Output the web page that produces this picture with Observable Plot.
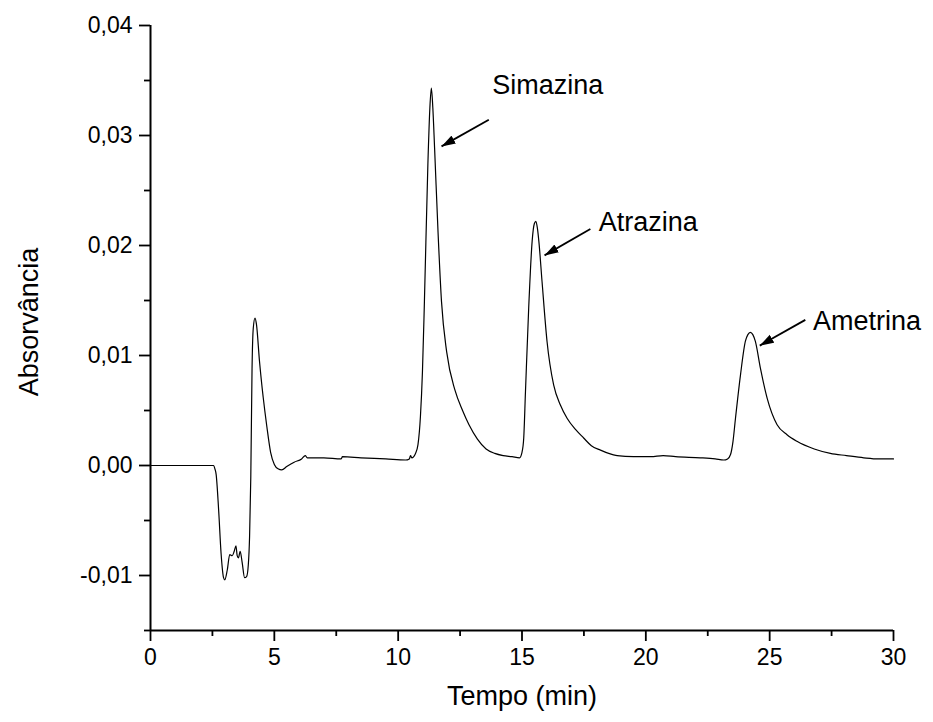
<!DOCTYPE html>
<html>
<head>
<meta charset="utf-8">
<script src="https://cdn.jsdelivr.net/npm/d3@7"></script>
<script src="https://cdn.jsdelivr.net/npm/@observablehq/plot@0.6"></script>
<style>
  html, body { margin: 0; padding: 0; background: #fff; }
  svg { display: block; }
</style>
</head>
<body>
<div id="chart"></div>
<script>
// Chromatogram: time (min) vs absorbance
const time = [
  0, 1, 2, 2.55, 2.6, 2.65, 2.75, 2.85, 2.95, 3.0, 3.1, 3.2, 3.3, 3.38, 3.45, 3.5, 3.55, 3.62, 3.7, 3.8, 3.88, 3.95,
  4.0, 4.05, 4.1, 4.15, 4.22, 4.28, 4.4, 4.55, 4.7, 4.85, 5.0, 5.15, 5.3, 5.5, 5.8, 6.1, 6.25, 6.33, 7.0, 7.7, 7.75,
  8.5, 9.5, 10.3, 10.45, 10.5, 10.55, 10.7, 10.8, 10.9, 10.98, 11.06, 11.2, 11.28, 11.34, 11.4, 11.47, 11.61, 11.75,
  11.96, 12.3, 12.6, 12.86, 13.2, 13.55, 13.9, 14.24, 14.6, 14.9, 15.0, 15.07, 15.14, 15.27, 15.41, 15.5, 15.56,
  15.62, 15.68, 15.81, 16.01, 16.28, 16.55, 16.82, 17.15, 17.49, 17.8, 18.17, 18.5, 18.84, 19.5, 20.2, 20.7, 21.2,
  22.2, 22.8, 23.15, 23.3, 23.42, 23.52, 23.62, 23.82, 24.02, 24.12, 24.22, 24.32, 24.42, 24.63, 24.9, 25.3, 25.7,
  26.1, 26.8, 27.45, 28.1, 28.8, 29.4, 30
];
const absorbance = [
  0, 0, 0, 0, -0.0003, -0.0008, -0.004, -0.008, -0.0102, -0.0104, -0.0095, -0.0081, -0.0082, -0.0078, -0.0073, -0.0082,
  -0.0084, -0.0078, -0.0088, -0.0102, -0.0101, -0.0090,
  -0.0065, -0.001, 0.0088, 0.0125, 0.0134, 0.0128, 0.0095, 0.0062, 0.0035, 0.0012, 0.0001, -0.0003, -0.0004, -0.0001,
  0.0003, 0.0006, 0.0009, 0.0007, 0.0007, 0.0006, 0.0008,
  0.0007, 0.0006, 0.0005, 0.0006, 0.0009, 0.0007, 0.0011, 0.0019, 0.0045, 0.0085, 0.0149, 0.0274, 0.0325, 0.0343,
  0.0325, 0.0289, 0.0212, 0.0149,
  0.0103, 0.0068, 0.0050, 0.0037, 0.0024, 0.0015, 0.0011, 0.0009, 0.0008, 0.0007, 0.0012, 0.0025, 0.0067, 0.0143,
  0.0204, 0.0220, 0.0222,
  0.0216, 0.0204, 0.0167, 0.0113, 0.0073, 0.0055, 0.0043, 0.0033, 0.0025, 0.0018, 0.0014, 0.0011, 0.0009, 0.0008,
  0.0008, 0.0009, 0.0008,
  0.0007, 0.0006, 0.0005, 0.0006, 0.0010, 0.0022, 0.0043, 0.0082, 0.0113, 0.0119, 0.0121, 0.0119, 0.0113, 0.0088,
  0.0061, 0.0037, 0.0028,
  0.0022, 0.0015, 0.0011, 0.0009, 0.0007, 0.0006, 0.0006
];

// Peak annotations
const peakNames = ["Simazina", "Atrazina", "Ametrina"];
const labelX = [13.8, 18.1, 26.75];
const labelY = [0.0346, 0.0221, 0.0131];
const arrowFromX = [13.66, 17.76, 26.44];
const arrowFromY = [0.03144, 0.0215, 0.01324];
const arrowToX = [11.75, 15.91, 24.6];
const arrowToY = [0.02901, 0.0191, 0.0109];

// Axis ticks
const xMajor = [0, 5, 10, 15, 20, 25, 30];
const xMinor = [2.5, 7.5, 12.5, 17.5, 22.5, 27.5];
const yMajor = [-0.01, 0, 0.01, 0.02, 0.03, 0.04];
const yMinor = [-0.015, -0.005, 0.005, 0.015, 0.025, 0.035];

const series = time.map((t, i) => ({t, a: absorbance[i]}));
const notes = peakNames.map((name, i) => ({
  name, lx: labelX[i], ly: labelY[i],
  x1: arrowFromX[i], y1: arrowFromY[i], x2: arrowToX[i], y2: arrowToY[i]
}));

const fmtY = d => d3.format(".2f")(d).replace("\u2212", "-").replace(".", ",");

function filledArrow(color) {
  const m = d3.create("svg:marker")
    .attr("viewBox", "-14 -5 14 10")
    .attr("markerWidth", 14)
    .attr("markerHeight", 10)
    .attr("markerUnits", "userSpaceOnUse")
    .attr("orient", "auto")
    .attr("refX", 0)
    .attr("refY", 0)
    .attr("fill", color)
    .attr("stroke", "none");
  m.append("path").attr("d", "M-14,-4.5L0,0L-14,4.5Z");
  return m.node();
}

const font = "'Liberation Sans', Arial, Helvetica, sans-serif";

const chart = Plot.plot({
  width: 933,
  height: 722,
  marginLeft: 150,
  marginRight: 40,
  marginTop: 25,
  marginBottom: 92,
  style: {fontFamily: font, fontSize: "23px", color: "#000", background: "#fff"},
  x: {domain: [0, 30]},
  y: {domain: [-0.015, 0.04]},
  marks: [
    Plot.axisX(xMajor, {tickSize: 11, tickPadding: 7, tickFormat: d => String(d), strokeWidth: 1.8, fontSize: 23, label: null}),
    Plot.axisX(xMinor, {tickSize: 6, tickFormat: () => "", strokeWidth: 1.8, label: null}),
    Plot.axisY(yMajor, {tickSize: 11, tickPadding: 7, tickFormat: fmtY, strokeWidth: 1.8, fontSize: 23, label: null}),
    Plot.axisY(yMinor, {tickSize: 6, tickFormat: () => "", strokeWidth: 1.8, label: null}),
    Plot.ruleX([0], {stroke: "#000", strokeWidth: 2}),
    Plot.ruleY([-0.015], {stroke: "#000", strokeWidth: 2}),
    Plot.line(series, {x: "t", y: "a", curve: "monotone-x", stroke: "#000", strokeWidth: 1.2}),
    Plot.link(notes, {x1: "x1", y1: "y1", x2: "x2", y2: "y2", stroke: "#000", strokeWidth: 1.8, markerEnd: filledArrow}),
    Plot.text(notes, {x: "lx", y: "ly", text: "name", textAnchor: "start", lineAnchor: "middle", fontSize: 27, fill: "#000"}),
    Plot.text(["Tempo (min)"], {frameAnchor: "bottom", dy: 66, textAnchor: "middle", lineAnchor: "middle", fontSize: 27, fill: "#000"}),
    Plot.text(["Absorvância"], {frameAnchor: "left", dx: -121, dy: -6, rotate: -90, textAnchor: "middle", lineAnchor: "middle", fontSize: 27, fill: "#000"})
  ]
});
document.getElementById("chart").appendChild(chart);
</script>
</body>
</html>
